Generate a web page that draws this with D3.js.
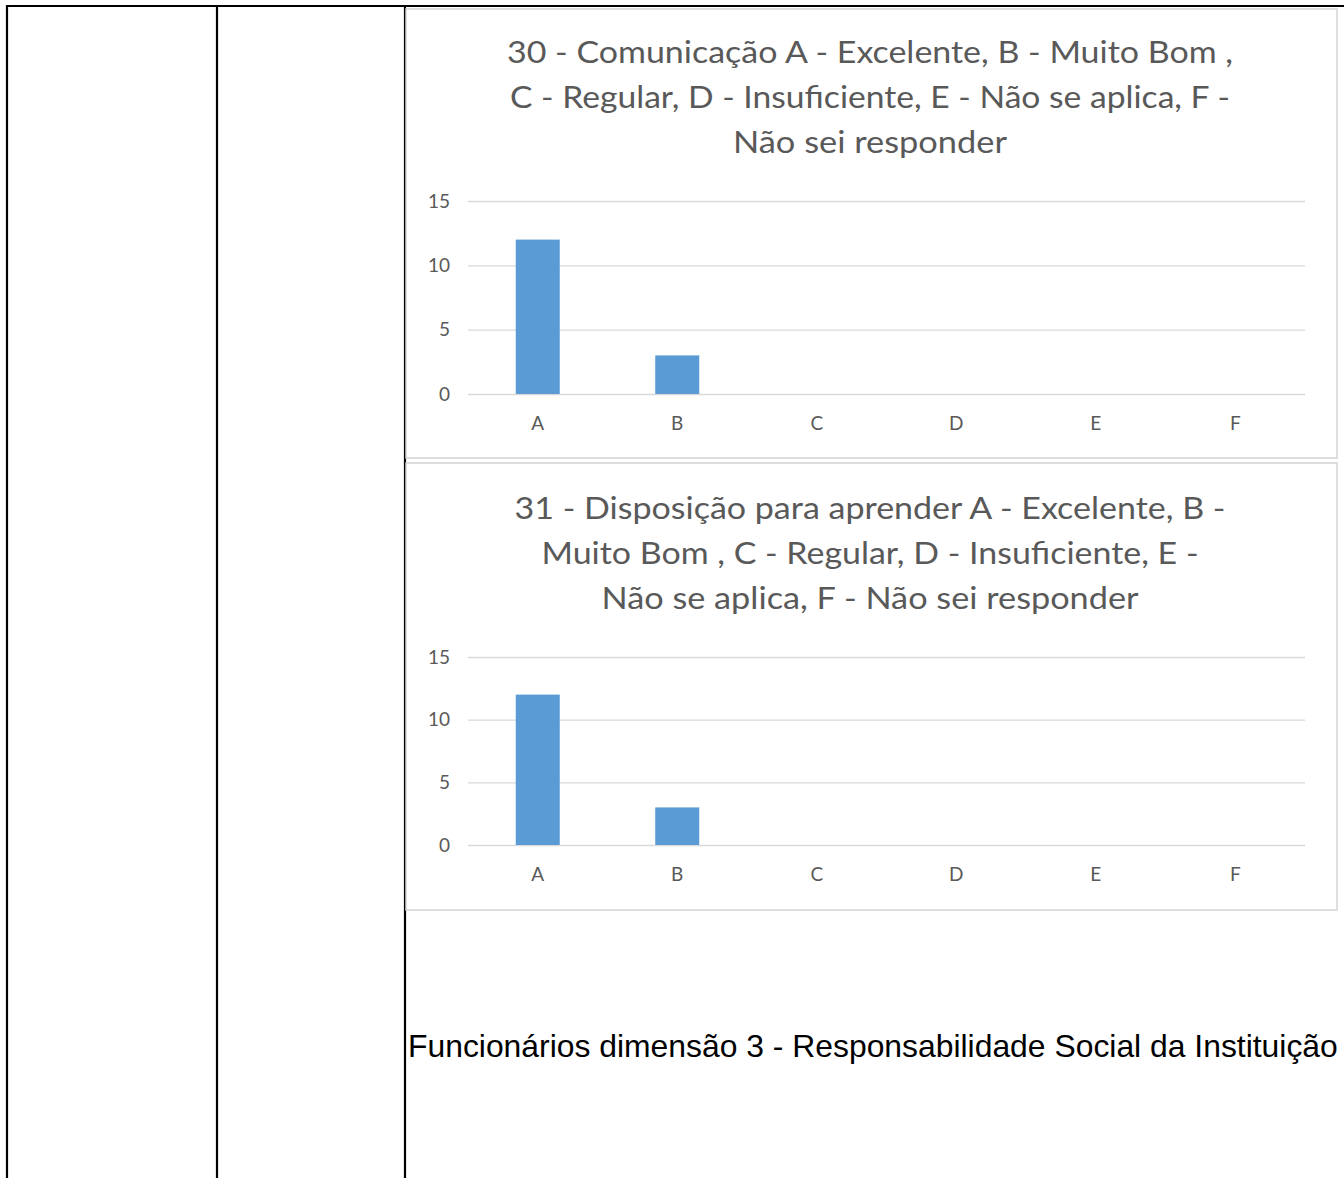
<!DOCTYPE html>
<html>
<head>
<meta charset="utf-8">
<script src="https://cdn.jsdelivr.net/npm/d3@7"></script>
<style>
  html, body { margin: 0; padding: 0; background: #fff; }
  svg { display: block; }
</style>
</head>
<body>
<svg id="chart" width="1344" height="1178"></svg>
<script>
// ---- data ----
const categories = ["A", "B", "C", "D", "E", "F"];
const values30 = [12, 3, 0, 0, 0, 0];
const values31 = [12, 3, 0, 0, 0, 0];
const yTicks = [0, 5, 10, 15];
const title30 = [
  "30 - Comunicação A - Excelente, B - Muito Bom ,",
  "C - Regular, D - Insuficiente, E - Não se aplica, F -",
  "Não sei responder"
];
const title31 = [
  "31 - Disposição para aprender A - Excelente, B -",
  "Muito Bom , C - Regular, D - Insuficiente, E -",
  "Não se aplica, F - Não sei responder"
];
const title30Widths = [726, 720, 274];
const title31Widths = [711, 657, 537];
const footerText = "Funcionários dimensão 3 - Responsabilidade Social da Instituição";

// ---- drawing ----
const svg = d3.select("#chart");
const W = 1344, H = 1178;

// table grid lines
const tableLines = svg.append("g").attr("stroke", "#000").attr("stroke-width", 2.2);
tableLines.append("line").attr("x1", 6).attr("x2", W).attr("y1", 6).attr("y2", 6);
[7, 217, 405].forEach(x => {
  tableLines.append("line").attr("x1", x).attr("x2", x).attr("y1", 5).attr("y2", H);
});

const textColor = "#595959";
const barColor = "#5b9bd5";
const gridColor = "#d9d9d9";
const titleFont = "Lato, 'Open Sans', sans-serif";

function drawChart(cfg) {
  const g = svg.append("g");
  // box
  g.append("rect")
    .attr("x", cfg.box[0]).attr("y", cfg.box[1])
    .attr("width", cfg.box[2]).attr("height", cfg.box[3])
    .attr("fill", "#fff").attr("stroke", "#d4d4d4").attr("stroke-width", 1.5);

  // title
  const cx = 870;
  cfg.title.forEach((t, i) => {
    g.append("text")
      .attr("x", cx).attr("y", cfg.titleY + i * 45)
      .attr("text-anchor", "middle")
      .attr("font-family", titleFont)
      .attr("font-size", 30)
      .attr("fill", textColor)
      .attr("textLength", cfg.titleWidths[i])
      .attr("lengthAdjust", "spacingAndGlyphs")
      .text(t);
  });

  const xc = d3.scaleBand().domain(categories).range([468, 1305]);
  const y = d3.scaleLinear().domain([0, 15]).range([cfg.y0, cfg.y15]);

  // gridlines
  const yAxis = d3.axisLeft(y).tickValues(yTicks).tickSize(-(1305 - 468)).tickPadding(18);
  const ga = g.append("g").attr("transform", "translate(468,0)").call(yAxis);
  ga.select(".domain").remove();
  ga.selectAll(".tick line").attr("stroke", gridColor).attr("stroke-width", 1.3);
  ga.selectAll(".tick text")
    .attr("fill", textColor)
    .attr("font-family", titleFont)
    .attr("font-size", 19);

  // bars
  g.append("g").selectAll("rect")
    .data(cfg.values.map((v, i) => ({ c: categories[i], v })))
    .join("rect")
    .attr("x", d => xc(d.c) + xc.bandwidth() / 2 - 22)
    .attr("width", 44)
    .attr("y", d => y(d.v))
    .attr("height", d => y(0) - y(d.v))
    .attr("fill", barColor);

  // x axis labels
  const xAxis = d3.axisBottom(xc).tickSize(0).tickPadding(23);
  const gx = g.append("g").attr("transform", `translate(0,${cfg.y0})`).call(xAxis);
  gx.select(".domain").remove();
  gx.selectAll(".tick text")
    .attr("fill", textColor)
    .attr("font-family", titleFont)
    .attr("font-size", 19);
}

drawChart({ box: [406, 9, 931, 449], title: title30, titleWidths: title30Widths, titleY: 63,
            values: values30, y0: 394, y15: 201 });
drawChart({ box: [406, 463, 931, 447], title: title31, titleWidths: title31Widths, titleY: 519,
            values: values31, y0: 845, y15: 657 });

// footer text
const ft = svg.append("text")
  .attr("x", 408).attr("y", 1057)
  .attr("font-family", "'Liberation Sans', Arial, sans-serif")
  .attr("font-size", 31)
  .attr("fill", "#000")
  .text(footerText);
const targetW = 930;
const w = ft.node().getComputedTextLength();
ft.attr("font-size", 31 * targetW / w);
</script>
</body>
</html>
